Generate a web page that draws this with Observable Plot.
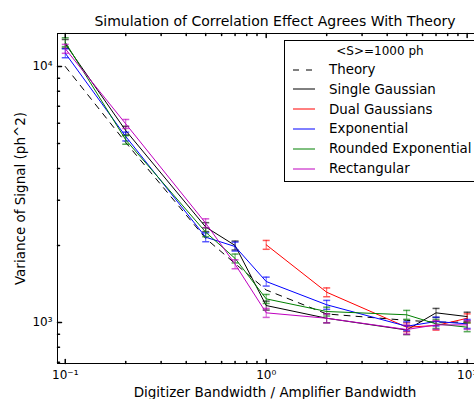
<!DOCTYPE html>
<html>
<head>
<meta charset="utf-8">
<script src="https://cdn.jsdelivr.net/npm/d3@7"></script>
<script src="https://cdn.jsdelivr.net/npm/@observablehq/plot@0.6"></script>
<style>
  html, body { margin: 0; padding: 0; background: white; overflow: hidden; }
  #wrap { position: relative; width: 474px; height: 399px; overflow: hidden; font-family: "DejaVu Sans", sans-serif; }
  #legend { position: absolute; left: 284px; top: 40px; width: 200px; height: 142px; border: 1px solid black; background: white; box-sizing: border-box; }
  #legend .ttl { position: absolute; left: 0; width: 190px; top: 3px; text-align: center; font-size: 12px; }
  #legend .row { position: absolute; left: 8px; height: 20px; display: flex; align-items: center; font-size: 13.4px; white-space: nowrap; }
  #legend .row svg { margin-right: 14px; }
</style>
</head>
<body>
<div id="wrap"></div>
<script>
// ---- data ----
const bandwidthRatio = [0.1, 0.2, 0.5, 0.7, 1, 2, 5, 7, 10];
const theory             = [10000, 5050, 2130, 1700, 1340, 1080, 1020, 1003, 1003];
const singleGaussian     = [12270, 5620, 2360, 2000, 1165, 1039, 935, 1091, 1055];
const dualGaussians      = [null, null, null, null, 2012, 1313, 959, 973, 1039];
const exponential        = [11270, 5330, 2154, 1981, 1446, 1173, 967, 1009, 988];
const roundedExponential = [12450, 5170, 2253, 1780, 1237, 1104, 1072, 988, 959];
const rectangular        = [11730, 5970, 2443, 1690, 1091, 1039, 939, 979, 979];

const singleGaussianErr     = [480, 220, 95, 80, 47, 42, 38, 44, 42];
const dualGaussiansErr      = [null, null, null, null, 80, 52, 38, 39, 42];
const exponentialErr        = [450, 210, 86, 80, 58, 47, 39, 40, 40];
const roundedExponentialErr = [500, 200, 90, 71, 50, 44, 43, 40, 38];
const rectangularErr        = [470, 240, 98, 68, 44, 42, 38, 39, 39];

const xMajorTicks = [0.1, 1, 10];
const xMinorTicks = [0.2,0.3,0.4,0.5,0.6,0.7,0.8,0.9,2,3,4,5,6,7,8,9];
const yMajorTicks = [1000, 10000];
const yMinorTicks = [700,800,900,2000,3000,4000,5000,6000,7000,8000,9000];

const titleText = "Simulation of Correlation Effect Agrees With Theory";
const xLabel = "Digitizer Bandwidth / Amplifier Bandwidth";
const yLabel = "Variance of Signal (ph^2)";
const legendTitle = "<S>=1000 ph";

const seriesDefs = [
  {name: "Theory", values: theory, errs: null, color: "black", dash: "6,6"},
  {name: "Single Gaussian", values: singleGaussian, errs: singleGaussianErr, color: "black"},
  {name: "Dual Gaussians", values: dualGaussians, errs: dualGaussiansErr, color: "#ff0000"},
  {name: "Exponential", values: exponential, errs: exponentialErr, color: "#0000ff"},
  {name: "Rounded Exponential", values: roundedExponential, errs: roundedExponentialErr, color: "#008000"},
  {name: "Rectangular", values: rectangular, errs: rectangularErr, color: "#bf00bf"}
];

function rowsFor(s) {
  const out = [];
  bandwidthRatio.forEach((x, i) => {
    if (s.values[i] != null) out.push({x, y: s.values[i], e: s.errs ? s.errs[i] : 0});
  });
  return out;
}

const sup = {"-": "\u207B", "0": "\u2070", "1": "\u00B9", "2": "\u00B2", "3": "\u00B3", "4": "\u2074", "5": "\u2075"};
const powFmt = d => "10" + String(Math.round(Math.log10(d))).split("").map(c => sup[c]).join("");

const capSymbol = {draw(ctx) { ctx.moveTo(-3.5, 0); ctx.lineTo(3.5, 0); }};
const tickShape = {draw(ctx, l) { ctx.moveTo(0, 0); ctx.lineTo(0, -l); }};

const marks = [];
for (const s of seriesDefs) {
  const rows = rowsFor(s);
  marks.push(Plot.line(rows, {x: "x", y: "y", stroke: s.color, strokeWidth: 1, strokeDasharray: s.dash}));
  if (s.errs) {
    marks.push(Plot.ruleX(rows, {x: "x", y1: d => d.y - d.e, y2: d => d.y + d.e, stroke: s.color, strokeOpacity: 0.65}));
    marks.push(Plot.dot(rows, {x: "x", y: d => d.y - d.e, symbol: capSymbol, r: 3, fill: "none", stroke: s.color, strokeOpacity: 0.65}));
    marks.push(Plot.dot(rows, {x: "x", y: d => d.y + d.e, symbol: capSymbol, r: 3, fill: "none", stroke: s.color, strokeOpacity: 0.65}));
  }
}

// inward ticks
marks.push(Plot.vector(xMajorTicks, {x: d => d, frameAnchor: "bottom", rotate: 0, anchor: "start", length: 4, shape: tickShape, stroke: "black"}));
marks.push(Plot.vector(xMinorTicks, {x: d => d, frameAnchor: "bottom", rotate: 0, anchor: "start", length: 2, shape: tickShape, stroke: "black"}));
marks.push(Plot.vector(xMajorTicks, {x: d => d, frameAnchor: "top", rotate: 180, anchor: "start", length: 4, shape: tickShape, stroke: "black"}));
marks.push(Plot.vector(xMinorTicks, {x: d => d, frameAnchor: "top", rotate: 180, anchor: "start", length: 2, shape: tickShape, stroke: "black"}));
marks.push(Plot.vector(yMajorTicks, {y: d => d, frameAnchor: "left", rotate: 90, anchor: "start", length: 4, shape: tickShape, stroke: "black"}));
marks.push(Plot.vector(yMinorTicks, {y: d => d, frameAnchor: "left", rotate: 90, anchor: "start", length: 2, shape: tickShape, stroke: "black"}));

marks.push(Plot.axisX(xMajorTicks, {tickSize: 0, tickPadding: 7, tickFormat: powFmt, label: null, fontSize: 12, fill: "black"}));
marks.push(Plot.axisY(yMajorTicks, {tickSize: 0, tickPadding: 5, tickFormat: powFmt, label: null, fontSize: 12, fill: "black"}));

marks.push(Plot.frame({stroke: "black", strokeWidth: 1}));

marks.push(Plot.text([titleText], {text: d => d, frameAnchor: "top", lineAnchor: "middle", textAnchor: "middle", dy: -12, dx: 4.5, fontSize: 14, fill: "black"}));
marks.push(Plot.text([xLabel], {text: d => d, frameAnchor: "bottom", lineAnchor: "middle", textAnchor: "middle", dy: 29, dx: 4.5, fontSize: 13.5, fill: "black"}));
marks.push(Plot.text([yLabel], {text: d => d, frameAnchor: "left", lineAnchor: "middle", textAnchor: "middle", dx: -37, rotate: -90, fontSize: 13.5, fill: "black"}));

const chart = Plot.plot({
  width: 474,
  height: 399,
  marginLeft: 57,
  marginRight: -9,
  marginTop: 33,
  marginBottom: 36,
  x: {type: "log", domain: [0.0915, 12.06]},
  y: {type: "log", domain: [691.7, 13455]},
  style: {fontFamily: "DejaVu Sans", background: "white", color: "black"},
  marks
});
const wrap = document.getElementById("wrap");
wrap.appendChild(chart);

// legend
const legend = document.createElement("div");
legend.id = "legend";
const t = document.createElement("div");
t.className = "ttl";
t.textContent = legendTitle;
legend.appendChild(t);
seriesDefs.forEach((s, i) => {
  const row = document.createElement("div");
  row.className = "row";
  row.style.top = (18.5 + i * 19.8) + "px";
  const sw = `<svg width="22" height="4"><line x1="0" y1="2" x2="22" y2="2" stroke="${s.color}" stroke-width="1" ${s.dash ? `stroke-dasharray="6,7"` : ""}/></svg>`;
  row.innerHTML = sw;
  const span = document.createElement("span");
  span.textContent = s.name;
  row.appendChild(span);
  legend.appendChild(row);
});
wrap.appendChild(legend);
</script>
</body>
</html>
